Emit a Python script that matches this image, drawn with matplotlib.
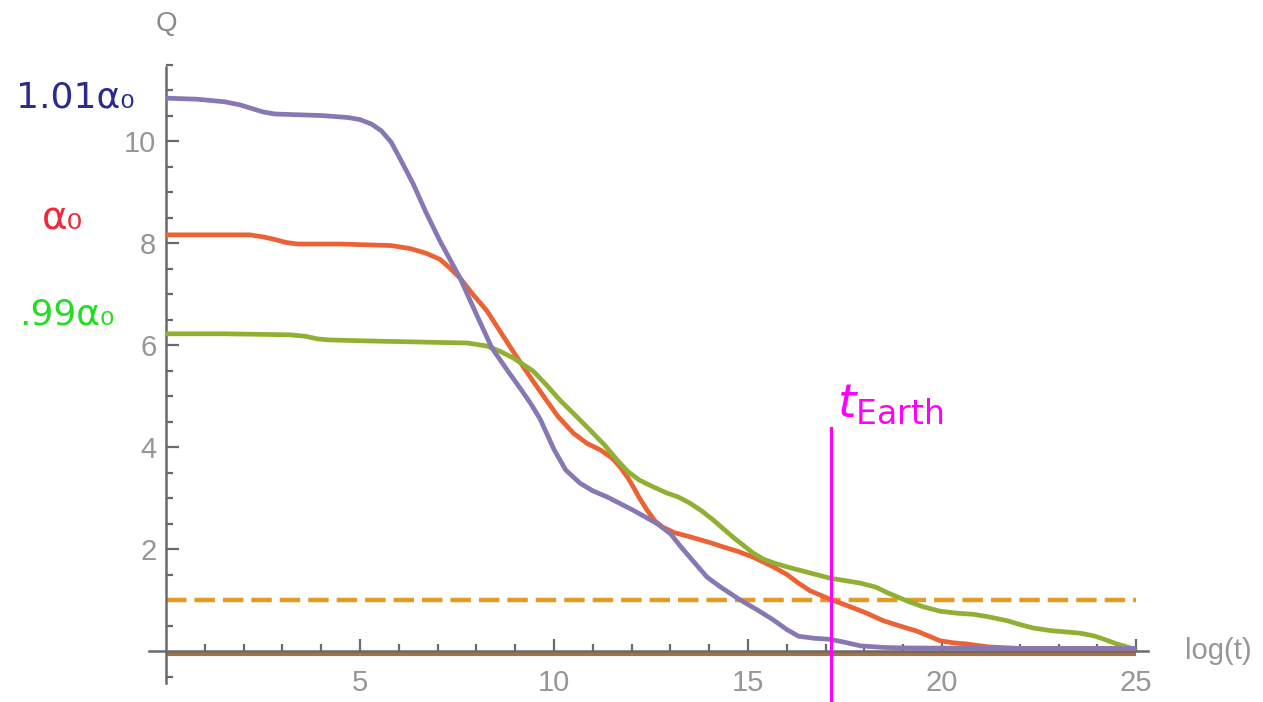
import numpy as np
import matplotlib.pyplot as plt
import matplotlib.transforms as mtransforms

# log(t) sample points and Q values for the three coupling values
x_hi = [0, 0.8, 1.5, 1.9, 2.2, 2.5, 2.8, 3.2, 4.0, 4.7, 5.0, 5.3, 5.55, 5.8, 6.0,
        6.37, 6.7, 7.06, 7.58, 8.0, 8.4, 8.8, 9.12, 9.4, 9.64, 10.0, 10.3, 10.67,
        11.0, 11.37, 12.04, 12.65, 13.0, 13.25, 13.6, 13.94, 14.3, 14.8, 15.25,
        15.65, 16.0, 16.3, 16.7, 17.1, 17.5, 17.9, 18.5, 19.0, 22.0, 25.0]
q_hi = [10.84, 10.82, 10.77, 10.71, 10.64, 10.57, 10.53, 10.52, 10.5, 10.46, 10.42,
        10.33, 10.2, 9.98, 9.7, 9.16, 8.6, 8.04, 7.31, 6.6, 5.94, 5.5, 5.16, 4.85,
        4.55, 3.95, 3.55, 3.29, 3.14, 3.02, 2.76, 2.5, 2.3, 2.06, 1.75, 1.45, 1.25,
        1.0, 0.8, 0.61, 0.42, 0.29, 0.25, 0.23, 0.17, 0.1, 0.07, 0.06, 0.05, 0.05]

x_mid = [0, 1.0, 2.16, 2.5, 2.8, 3.1, 3.4, 4.5, 5.8, 6.3, 6.7, 7.06, 7.3, 7.58, 7.9,
         8.27, 8.6, 8.94, 9.2, 9.46, 9.8, 10.1, 10.5, 10.85, 11.2, 11.5, 11.7, 11.9,
         12.04, 12.2, 12.4, 12.6, 12.8, 13.1, 13.5, 14.0, 14.36, 14.75, 15.13, 15.65,
         16.0, 16.3, 16.6, 17.1, 17.45, 18.0, 18.5, 19.0, 19.35, 19.7, 19.95, 20.3,
         20.6, 21.2, 22.0, 25.0]
q_mid = [8.16, 8.16, 8.16, 8.12, 8.07, 8.01, 7.98, 7.98, 7.95, 7.89, 7.8, 7.68, 7.52,
         7.31, 7.0, 6.67, 6.28, 5.88, 5.58, 5.29, 4.92, 4.6, 4.27, 4.07, 3.94, 3.78,
         3.61, 3.4, 3.22, 3.0, 2.76, 2.55, 2.43, 2.32, 2.24, 2.13, 2.04, 1.95, 1.84,
         1.65, 1.5, 1.33, 1.18, 1.02, 0.92, 0.76, 0.59, 0.47, 0.39, 0.28, 0.2, 0.16,
         0.14, 0.08, 0.05, 0.05]

x_lo = [0, 1.5, 3.2, 3.6, 3.9, 4.2, 5.2, 7.06, 7.76, 8.27, 8.6, 8.94, 9.46, 9.8,
        10.15, 10.55, 10.93, 11.3, 11.62, 11.9, 12.2, 12.55, 12.9, 13.2, 13.5, 13.8,
        14.1, 14.6, 15.13, 15.4, 15.65, 16.0, 16.3, 17.1, 17.9, 18.3, 18.6, 19.1,
        19.5, 19.95, 20.4, 20.8, 21.2, 21.7, 22.0, 22.35, 22.8, 23.55, 23.9, 24.1,
        24.5, 24.9]
q_lo = [6.22, 6.22, 6.2, 6.17, 6.12, 6.1, 6.08, 6.05, 6.04, 5.98, 5.88, 5.75, 5.49,
        5.22, 4.92, 4.62, 4.33, 4.04, 3.75, 3.52, 3.35, 3.22, 3.1, 3.02, 2.9, 2.75,
        2.57, 2.24, 1.92, 1.8, 1.73, 1.65, 1.59, 1.43, 1.33, 1.25, 1.14, 0.98, 0.87,
        0.78, 0.74, 0.72, 0.67, 0.59, 0.52, 0.45, 0.4, 0.35, 0.3, 0.25, 0.14, 0.05]

x_range = [0, 25]
q_one = 1.0
q_zero = 0.0
t_earth = 17.14
t_earth_top = 4.37

fig = plt.figure(figsize=(12.63, 7.02), dpi=100)
ax = fig.add_axes([0, 0, 1, 1])
ax.set_xlim(-4.278, 28.27)
ax.set_ylim(-1.0, 12.765)

gray = '#6a6a6a'
for side in ['top', 'right']:
    ax.spines[side].set_visible(False)
ax.spines['left'].set_position(('data', 0))
ax.spines['bottom'].set_position(('data', 0))
ax.spines['left'].set_bounds(-0.63, 11.45)
ax.spines['bottom'].set_bounds(-0.45, 25.3)
for side in ['left', 'bottom']:
    ax.spines[side].set_color(gray)
    ax.spines[side].set_linewidth(1.8)
    ax.spines[side].set_zorder(3)

ax.set_xticks([5, 10, 15, 20, 25])
ax.set_xticks([v for v in range(1, 26) if v % 5], minor=True)
ax.set_yticks([2, 4, 6, 8, 10])
ax.set_yticks([v / 2 for v in range(-1, 24) if v % 4 and v != 0], minor=True)
ax.tick_params(which='both', direction='in', color=gray, width=1.6,
               labelcolor='#969696', labelsize=21)
ax.tick_params(which='major', length=9)
ax.tick_params(which='minor', length=5)
ax.tick_params(axis='x', pad=13)
ax.tick_params(axis='y', pad=7)
for lab in ax.get_xticklabels() + ax.get_yticklabels():
    lab.set_family('Liberation Sans')

# Q = 0 line, nudged just under the axis
shift = mtransforms.ScaledTranslation(0, -2.5 / 100, fig.dpi_scale_trans)
ax.plot(x_range, [q_zero, q_zero], color='#A8703F', lw=3, zorder=2,
        solid_capstyle='butt', transform=ax.transData + shift)
ax.plot(x_range, [q_one, q_one], color='#E19C24', lw=3.2, dashes=(4.6, 1.8), zorder=2)

curve_kw = dict(lw=3.4, solid_capstyle='butt', solid_joinstyle='round')
ax.plot(x_mid, q_mid, color='#EB6235', zorder=4, **curve_kw)
ax.plot(x_lo, q_lo, color='#8FB032', zorder=4, **curve_kw)
ax.plot(x_hi, q_hi, color='#8778B3', zorder=5, **curve_kw)

ax.plot([t_earth, t_earth], [t_earth_top, -1.0], color='#FF00FF', lw=2.2, zorder=6)

ax.text(0, 12.29, 'Q', ha='center', va='center', fontsize=20,
        color='#8a8a8a', family='Liberation Sans')
ax.text(26.26, 0, 'log(t)', ha='left', va='center', fontsize=21,
        color='#969696', family='Liberation Sans')

ax.text(-2.35, 10.86, '1.01α₀', ha='center', va='center', fontsize=26,
        color='#2b2b8c')
ax.text(-2.68, 8.49, 'α₀', ha='center', va='center', fontsize=28,
        color='#f0283c')
ax.text(-2.55, 6.59, '.99α₀', ha='center', va='center', fontsize=26,
        color='#22dd22')
ax.text(17.3, 4.85, r'$t_{\mathrm{Earth}}$', ha='left', va='center', fontsize=34,
        color='#FF00FF')

fig.savefig('out.png', dpi=100)
